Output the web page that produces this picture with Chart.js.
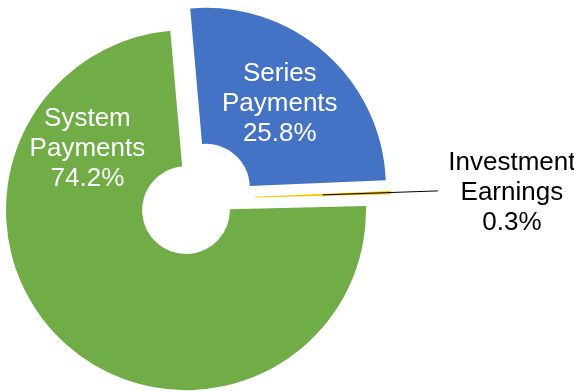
<!DOCTYPE html>
<html>
<head>
<meta charset="utf-8">
<script src="https://cdn.jsdelivr.net/npm/chart.js@4.4.0/dist/chart.umd.min.js"></script>
<style>
body{margin:0;background:#fff}
</style>
</head>
<body>
<canvas id="pieChart" width="574" height="392"></canvas>
<script>
const categories = ["Series Payments", "Investment Earnings", "System Payments"];
const shares = [25.8, 0.3, 74.2];
const labelLines = [["Series", "Payments"], ["Investment", "Earnings"], ["System", "Payments"]];
const sliceColors = ["#4472C4", "#FFC000", "#70AD47"];

// where the label sits along each slice (0 = start, 1 = end); null = outside label
const labelSpots = [0.5, null, 0.8];
const labelPush = [0, 0, 4];   // extra radial push of the label, px

const explode = 15;   // every slice pulled out the same distance
const font = "26px 'Liberation Sans', Arial, sans-serif";

// shift each arc along its own middle angle (pure translation, no radius change)
const explodePlugin = {
  id: "explode",
  beforeDatasetsDraw(chart) {
    chart.getDatasetMeta(0).data.forEach(arc => {
      if (arc._shifted) return;
      const draw = arc.draw;
      arc.draw = function (ctx) {
        const mid = (this.startAngle + this.endAngle) / 2;
        ctx.save();
        ctx.translate(Math.cos(mid) * explode, Math.sin(mid) * explode);
        draw.call(this, ctx);
        ctx.restore();
      };
      arc._shifted = true;
    });
  }
};

function drawLines(ctx, lines, x, y, color) {
  ctx.fillStyle = color;
  const top = y - (lines.length - 1) * 15;
  lines.forEach((t, k) => ctx.fillText(t, x, top + k * 30));
}

const labelPlugin = {
  id: "sliceLabels",
  afterDatasetsDraw(chart) {
    const ctx = chart.ctx;
    const arcs = chart.getDatasetMeta(0).data;
    ctx.save();
    ctx.font = font;
    ctx.textAlign = "center";
    ctx.textBaseline = "middle";
    arcs.forEach((arc, i) => {
      const mid = (arc.startAngle + arc.endAngle) / 2;
      const cx = arc.x + Math.cos(mid) * explode;
      const cy = arc.y + Math.sin(mid) * explode;
      const r = (arc.innerRadius + arc.outerRadius) / 2;
      const lines = labelLines[i].concat(shares[i].toFixed(1) + "%");
      if (labelSpots[i] !== null) {
        const a = arc.startAngle + labelSpots[i] * (arc.endAngle - arc.startAngle);
        const rr = r + labelPush[i];
        drawLines(ctx, lines, cx + Math.cos(a) * rr, cy + Math.sin(a) * rr, "#ffffff");
      } else {
        // outside label with a leader line to the slice
        const sx = cx + Math.cos(mid) * r;
        const sy = cy + Math.sin(mid) * r;
        const lx = cx + Math.cos(mid) * (arc.outerRadius + 47);
        const ly = sy - 4;
        ctx.strokeStyle = "#000000";
        ctx.lineWidth = 1;
        ctx.beginPath();
        ctx.moveTo(sx, sy);
        ctx.lineTo(lx, ly);
        ctx.stroke();
        drawLines(ctx, lines, lx + 74, ly + 2, "#000000");
      }
    });
    ctx.restore();
  }
};

new Chart(document.getElementById("pieChart"), {
  type: "doughnut",
  data: {
    labels: categories,
    datasets: [{
      data: shares,
      backgroundColor: sliceColors,
      borderWidth: 0,
      hoverOffset: 0,
      clip: false
    }]
  },
  options: {
    responsive: false,
    animation: false,
    rotation: -5,
    radius: 180,
    cutout: 47,
    layout: {
      padding: {left: 0, right: 182, top: 6, bottom: 0}
    },
    plugins: {
      legend: {display: false},
      tooltip: {enabled: false}
    }
  },
  plugins: [explodePlugin, labelPlugin]
});
</script>
</body>
</html>
